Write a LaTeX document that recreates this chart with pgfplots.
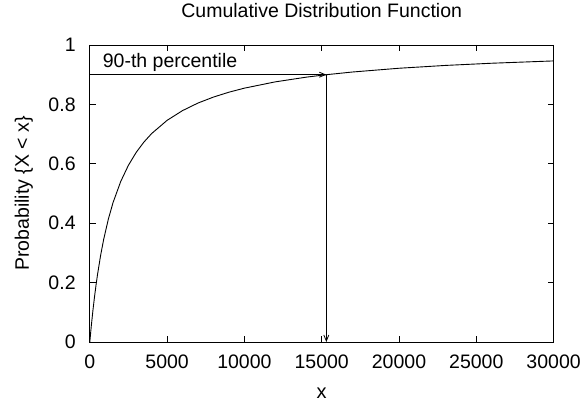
\documentclass[border=0pt]{standalone}
\usepackage{pgfplots}
\pgfplotsset{compat=1.18}
\usepackage{fontspec}
\setmainfont{Liberation Sans}
\usetikzlibrary{arrows.meta}

\begin{document}
\begin{tikzpicture}
\useasboundingbox (-89.8bp,-61bp) rectangle (493.2bp,342bp);
\begin{axis}[
  at={(0,0)}, anchor=south west,
  scale only axis,
  width=463.8bp, height=297bp,
  xmin=0, xmax=30000, ymin=0, ymax=1,
  xtick={0,5000,...,30000},
  ytick={0,0.2,0.4,0.6,0.8,1},
  scaled x ticks=false,
  /pgf/number format/assume math mode=true,
  tick label style={font=\fontsize{19.5bp}{23bp}\selectfont, inner sep=0pt},
  xticklabel style={/pgf/number format/1000 sep={}, anchor=base, yshift=-26bp},
  yticklabel style={/pgf/number format/fixed, anchor=east, xshift=-14bp},
  tick align=inside, xtick pos=both, ytick pos=both,
  major tick length=6bp,
  axis line style={line width=0.9bp},
  every tick/.style={black, line width=0.8bp},
  title={Cumulative Distribution Function},
  title style={font=\fontsize{19.5bp}{23bp}\selectfont, at={(0.5,1)}, anchor=base, yshift=22bp},
  xlabel={x},
  xlabel style={font=\fontsize{20bp}{24bp}\selectfont, at={(0.5,0)}, anchor=base, yshift=-56bp},
  ylabel={Probability \{X < x\}},
  ylabel style={font=\fontsize{19.5bp}{23bp}\selectfont, at={(0,0.5)}, anchor=base, yshift=61bp},
  clip=false,
]
% CDF curve
\addplot[black, line width=0.9bp] coordinates {
  (0,0) (50,0.0286) (100,0.0556) (200,0.1053) (300,0.15) (400,0.1905)
  (500,0.2273) (700,0.2917) (900,0.3462) (1200,0.4138) (1500,0.4688)
  (2000,0.5405) (2500,0.5952) (3000,0.6383) (3500,0.6731) (4000,0.7018)
  (5000,0.7463) (6000,0.7792) (7000,0.8046) (8000,0.8247) (9000,0.8411)
  (10000,0.8547) (12000,0.8759) (14000,0.8917) (15300,0.9) (17000,0.9091)
  (20000,0.9217) (23000,0.9312) (26000,0.9386) (30000,0.9464)
};
% percentile guides
\addplot[black, line width=0.8bp, -{Straight Barb[length=6bp,width=5bp]}] coordinates {(0,0.9) (15300,0.9)};
\addplot[black, line width=0.8bp, -{Straight Barb[length=6bp,width=5bp]}] coordinates {(15300,0.9) (15300,0)};
\node[anchor=base west, font=\fontsize{19.5bp}{23bp}\selectfont, inner sep=0pt] at (axis cs:830,0.9226) {90-th percentile};
\end{axis}
\end{tikzpicture}
\end{document}
